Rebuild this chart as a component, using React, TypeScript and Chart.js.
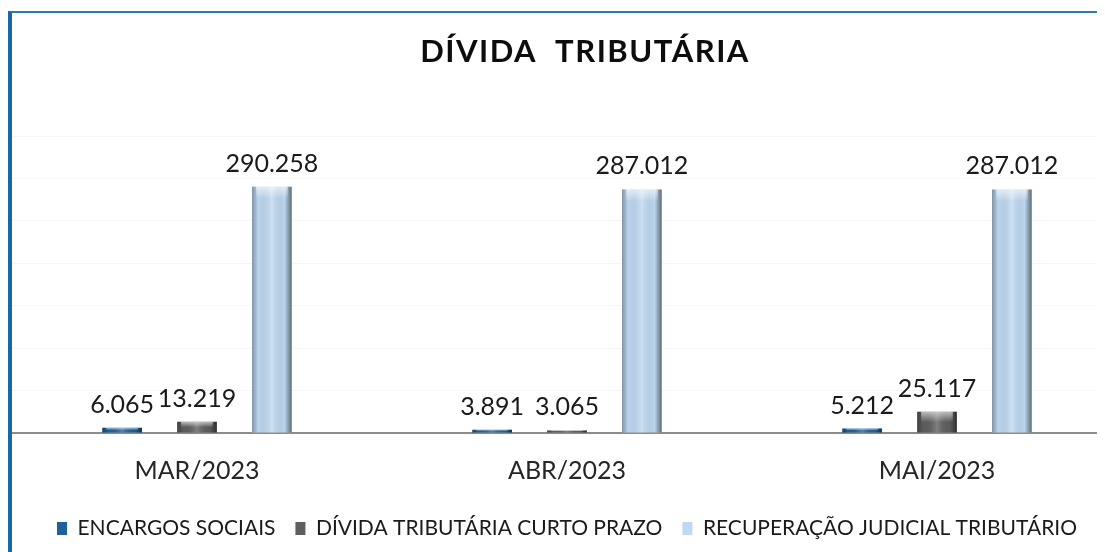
import React, { useEffect, useRef } from 'react';
import { Chart, registerables } from 'chart.js';

Chart.register(...registerables);

const chartTitle = 'DÍVIDA  TRIBUTÁRIA';
const categories = ['MAR/2023', 'ABR/2023', 'MAI/2023'];
const seriesNames = ['ENCARGOS SOCIAIS', 'DÍVIDA TRIBUTÁRIA CURTO PRAZO', 'RECUPERAÇÃO JUDICIAL TRIBUTÁRIO'];
const encargosSociais = [6065, 3891, 5212];
const dividaCurtoPrazo = [13219, 3065, 25117];
const recuperacaoJudicial = [290258, 287012, 287012];
const seriesColors = ['#1f629b', '#5e5e5e', '#bfd9f2'];

const fmt = (n: number) => String(n).replace(/\B(?=(\d{3})+(?!\d))/g, '.');

const shadePlugin = {
  id: 'barShade',
  afterDatasetsDraw(chart: any) {
    const ctx = chart.ctx;
    chart.data.datasets.forEach((_ds: any, i: number) => {
      const meta = chart.getDatasetMeta(i);
      if (meta.hidden) return;
      meta.data.forEach((bar: any) => {
        const { x, y, base, width } = bar.getProps(['x', 'y', 'base', 'width'], true);
        const left = x - width / 2;
        const top = Math.min(y, base);
        const h = Math.abs(base - y);
        ctx.save();
        const g = ctx.createLinearGradient(left, 0, left + width, 0);
        g.addColorStop(0, 'rgba(0,0,0,0.32)');
        g.addColorStop(0.16, 'rgba(0,0,0,0.02)');
        g.addColorStop(0.5, 'rgba(255,255,255,0.22)');
        g.addColorStop(0.82, 'rgba(0,0,0,0.02)');
        g.addColorStop(1, 'rgba(0,0,0,0.5)');
        ctx.fillStyle = g;
        ctx.fillRect(left, top, width, h);
        const bh = Math.min(12, h / 2);
        const g2 = ctx.createLinearGradient(0, top, 0, top + bh);
        g2.addColorStop(0, 'rgba(255,255,255,0.6)');
        g2.addColorStop(1, 'rgba(255,255,255,0)');
        ctx.fillStyle = g2;
        ctx.fillRect(left + 4, top, width - 8, bh);
        ctx.restore();
      });
    });
  },
};

const valueLabelPlugin = {
  id: 'valueLabels',
  afterDatasetsDraw(chart: any) {
    const ctx = chart.ctx;
    ctx.save();
    ctx.font = '25px Lato';
    ctx.fillStyle = '#1a1a1a';
    ctx.textAlign = 'center';
    ctx.textBaseline = 'alphabetic';
    chart.data.datasets.forEach((ds: any, i: number) => {
      const meta = chart.getDatasetMeta(i);
      if (meta.hidden) return;
      meta.data.forEach((bar: any, j: number) => {
        const { x, y } = bar.getProps(['x', 'y'], true);
        ctx.fillText(fmt(ds.data[j]), x, y - 15);
      });
    });
    ctx.restore();
  },
};

const titlePlugin = {
  id: 'customTitle',
  afterDraw(chart: any) {
    const ctx = chart.ctx;
    ctx.save();
    ctx.font = 'bold 31px Lato';
    (ctx as any).letterSpacing = '1.5px';
    ctx.fillStyle = '#0d0d0d';
    ctx.textAlign = 'center';
    ctx.textBaseline = 'alphabetic';
    ctx.fillText(chartTitle, 573, 49);
    ctx.restore();
  },
};

export default function App() {
  const ref = useRef<HTMLCanvasElement | null>(null);

  useEffect(() => {
    if (!ref.current) return;
    const chart = new Chart(ref.current, {
      type: 'bar',
      data: {
        labels: categories,
        datasets: [
          { label: seriesNames[0], data: encargosSociais, backgroundColor: seriesColors[0], borderWidth: 0, barPercentage: 0.53, categoryPercentage: 0.607 },
          { label: seriesNames[1], data: dividaCurtoPrazo, backgroundColor: seriesColors[1], borderWidth: 0, barPercentage: 0.53, categoryPercentage: 0.607 },
          { label: seriesNames[2], data: recuperacaoJudicial, backgroundColor: seriesColors[2], borderWidth: 0, barPercentage: 0.53, categoryPercentage: 0.607 },
        ],
      },
      options: {
        responsive: false,
        animation: false,
        layout: { padding: { top: 123, left: 0, right: 0, bottom: 3 } },
        plugins: {
          title: { display: false },
          tooltip: { enabled: false },
          legend: {
            position: 'bottom',
            labels: {
              font: { family: 'Lato', size: 21 },
              color: '#1a1a1a',
              boxWidth: 10,
              boxHeight: 13,
              padding: 20,
            },
          },
        },
        scales: {
          x: {
            grid: { display: false },
            border: { display: true, color: '#8c8c8c', width: 2 },
            ticks: { font: { family: 'Lato', size: 25 }, color: '#262626', padding: 15 },
            afterFit: (scale: any) => { scale.height = 65; },
          },
          y: {
            min: 0,
            max: 350000,
            ticks: { display: false, stepSize: 50000 },
            grid: { color: '#f6f6f6', drawTicks: false },
            border: { display: false },
          },
        },
      },
      plugins: [shadePlugin, valueLabelPlugin, titlePlugin],
    });
    return () => chart.destroy();
  }, []);

  return (
    <div style={{ width: 1097, height: 544, overflow: 'hidden' }}>
      <div
        style={{
          marginTop: 3,
          borderLeft: '4px solid #1a66a6',
          borderTop: '2px solid #2f78b8',
          width: 1114,
          height: 539,
        }}
      >
        <canvas ref={ref} width={1110} height={539} style={{ display: 'block' }} />
      </div>
    </div>
  );
}
